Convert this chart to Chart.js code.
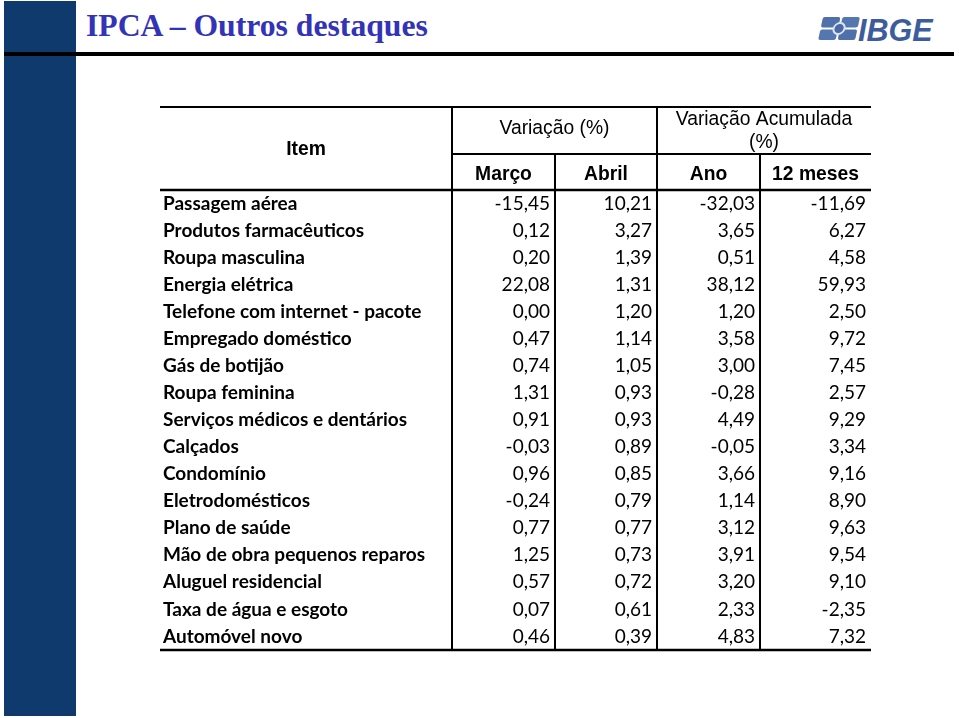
<!DOCTYPE html>
<html lang="pt-BR">
<head>
<meta charset="utf-8">
<title>IPCA – Outros destaques</title>
<script src="https://cdn.jsdelivr.net/npm/chart.js@4.4.1/dist/chart.umd.min.js"></script>
<style>
  html, body { margin: 0; padding: 0; background: #fff; }
  #page { position: relative; width: 959px; height: 718px; overflow: hidden; background: #fff; }
  #sidebar { position: absolute; left: 4px; top: 1px; width: 72px; height: 715px; background: #0E3A6D; }
  #rule { position: absolute; left: 4px; top: 52px; width: 950px; height: 4px; background: #000; }
  #title { position: absolute; left: 86px; top: 9.6px; margin: 0; font-family: "Liberation Serif", "Times New Roman", serif;
           font-weight: bold; font-size: 31.7px; line-height: 1; color: #3333B8; white-space: nowrap; }
  #logoText { position: absolute; left: 858px; top: 14.7px; font-family: "Liberation Sans", Arial, sans-serif;
              font-weight: bold; font-style: italic; font-size: 30.5px; line-height: 1; color: #3D5C9E; letter-spacing: 0px; }
  #logoIcon { position: absolute; left: 818px; top: 17px; }
  #chartWrap { position: absolute; left: 0; top: 0; width: 959px; height: 718px; }
  canvas { display: block; }
</style>
</head>
<body>
<div id="page">
  <div id="sidebar"></div>
  <div id="rule"></div>
  <h1 id="title">IPCA – Outros destaques</h1>
  <svg id="logoIcon" width="42" height="24" viewBox="0 0 42 24">
    <g transform="translate(5,0) skewX(-12)">
      <rect x="0" y="0" width="17.5" height="10.5" rx="2" fill="#4F70AB"/>
      <rect x="19.5" y="0" width="17.5" height="10.5" rx="2" fill="#5577B0"/>
      <rect x="0" y="12.5" width="17.5" height="10.5" rx="2" fill="#5577B0"/>
      <rect x="19.5" y="12.5" width="17.5" height="10.5" rx="2" fill="#4F70AB"/>
      <circle cx="18.5" cy="11.5" r="5.5" fill="#4A69A6" stroke="#DCE3F0" stroke-width="2"/>
    </g>
  </svg>
  <div id="logoText">IBGE</div>
  <div id="chartWrap"><canvas id="tbl" width="959" height="718"></canvas></div>
</div>
<script>
const items = [
  'Passagem aérea',
  'Produtos farmacêuticos',
  'Roupa masculina',
  'Energia elétrica',
  'Telefone com internet - pacote',
  'Empregado doméstico',
  'Gás de botijão',
  'Roupa feminina',
  'Serviços médicos e dentários',
  'Calçados',
  'Condomínio',
  'Eletrodomésticos',
  'Plano de saúde',
  'Mão de obra pequenos reparos',
  'Aluguel residencial',
  'Taxa de água e esgoto',
  'Automóvel novo'
];
const marco   = [-15.45, 0.12, 0.20, 22.08, 0.00, 0.47, 0.74, 1.31, 0.91, -0.03, 0.96, -0.24, 0.77, 1.25, 0.57, 0.07, 0.46];
const abril   = [ 10.21, 3.27, 1.39,  1.31, 1.20, 1.14, 1.05, 0.93, 0.93,  0.89, 0.85,  0.79, 0.77, 0.73, 0.72, 0.61, 0.39];
const ano     = [-32.03, 3.65, 0.51, 38.12, 1.20, 3.58, 3.00, -0.28, 4.49, -0.05, 3.66, 1.14, 3.12, 3.91, 3.20, 2.33, 4.83];
const meses12 = [-11.69, 6.27, 4.58, 59.93, 2.50, 9.72, 7.45, 2.57, 9.29, 3.34, 9.16, 8.90, 9.63, 9.54, 9.10, -2.35, 7.32];

const itemHeader   = 'Item';
const groupHeaders = [['Variação (%)'], ['Variação Acumulada', '(%)']];
const subHeaders   = ['Março', 'Abril', 'Ano', '12 meses'];

const series = [marco, abril, ano, meses12];

// ---- Layout / style constants ----
const COL_W = [103, 102, 103, 111];                 // relative column widths
const COL_EDGE = COL_W.reduce((a, w) => { a.push(a[a.length - 1] + w); return a; }, [0]);
const HEAD_TOP = 107, HEAD_MID = 154;
const BODY_FONT = 'Lato';
const HEAD_FONT = '"Liberation Sans", Arial, sans-serif';
const HEAD_SIZE = 19.3;

const fmt = v => v.toFixed(2).replace('.', ',');

const tablePlugin = {
  id: 'tableDecor',
  afterDatasetsDraw(chart) {
    const { ctx, chartArea: a, scales: { x, y } } = chart;
    const xs = COL_EDGE.map(e => x.getPixelForValue(e));
    const L = y.left - 3, R = xs[xs.length - 1];
    ctx.save();

    // cell values
    ctx.font = '19px ' + BODY_FONT;
    ctx.fillStyle = '#000';
    ctx.textAlign = 'right';
    ctx.textBaseline = 'middle';
    chart.data.datasets.forEach((ds, c) => {
      chart.getDatasetMeta(c).data.forEach((el, i) => {
        ctx.fillText(fmt(ds.data[i].v), el.x - 5, el.y);
      });
    });

    // headers
    ctx.textAlign = 'center';
    ctx.textBaseline = 'alphabetic';
    ctx.font = 'bold ' + HEAD_SIZE + 'px ' + HEAD_FONT;
    ctx.fillText(itemHeader, (L + xs[0]) / 2, 155);
    ctx.font = HEAD_SIZE + 'px ' + HEAD_FONT;
    ctx.fillText(groupHeaders[0][0], (xs[0] + xs[2]) / 2, 134);
    ctx.fillText(groupHeaders[1][0], (xs[2] + xs[4]) / 2, 125);
    ctx.fillText(groupHeaders[1][1], (xs[2] + xs[4]) / 2, 148);
    ctx.font = 'bold ' + HEAD_SIZE + 'px ' + HEAD_FONT;
    subHeaders.forEach((t, c) => ctx.fillText(t, (xs[c] + xs[c + 1]) / 2, 180));

    // rules
    ctx.strokeStyle = '#000';
    const h = (x1, x2, yy, w) => { ctx.lineWidth = w; ctx.beginPath(); ctx.moveTo(x1, yy); ctx.lineTo(x2, yy); ctx.stroke(); };
    const v = (xx, y1, y2, w) => { ctx.lineWidth = w; ctx.beginPath(); ctx.moveTo(xx, y1); ctx.lineTo(xx, y2); ctx.stroke(); };
    h(L, R, HEAD_TOP, 2.2);
    h(xs[0], R, HEAD_MID, 2);
    h(L, R, a.top, 2.4);
    h(L, R, a.bottom, 2.6);
    v(xs[0], HEAD_TOP - 1, a.bottom, 2);
    v(xs[2], HEAD_TOP - 1, a.bottom, 2);
    v(xs[1], HEAD_MID, a.bottom, 2);
    v(xs[3], HEAD_MID, a.bottom, 2);
    ctx.restore();
  }
};

function build() {
  new Chart(document.getElementById('tbl'), {
    type: 'scatter',
    data: {
      datasets: series.map((vals, c) => ({
        label: subHeaders[c],
        data: vals.map((val, i) => ({ x: COL_EDGE[c + 1], y: i, v: val })),
        pointRadius: 0,
        pointHoverRadius: 0
      }))
    },
    options: {
      responsive: false,
      animation: false,
      events: [],
      layout: { padding: { left: 163, right: 88, top: 190, bottom: 68 } },
      plugins: { legend: { display: false }, tooltip: { enabled: false }, title: { display: false } },
      scales: {
        x: { type: 'linear', min: 0, max: COL_EDGE[COL_EDGE.length - 1], display: false },
        y: {
          type: 'category',
          labels: items,
          offset: true,
          grid: { display: false, drawTicks: false },
          border: { display: false },
          ticks: {
            autoSkip: false,
            crossAlign: 'far',
            padding: 0,
            color: '#000',
            font: { family: BODY_FONT, weight: 'bold', size: 19 }
          },
          afterFit: s => { s.width = 289; }
        }
      }
    },
    plugins: [tablePlugin]
  });
}

Promise.all([
  document.fonts.load('bold 19px Lato'),
  document.fonts.load('19px Lato'),
  document.fonts.load('bold 19.3px "Liberation Sans"'),
  document.fonts.load('19.3px "Liberation Sans"')
]).then(build, build);
</script>
</body>
</html>
